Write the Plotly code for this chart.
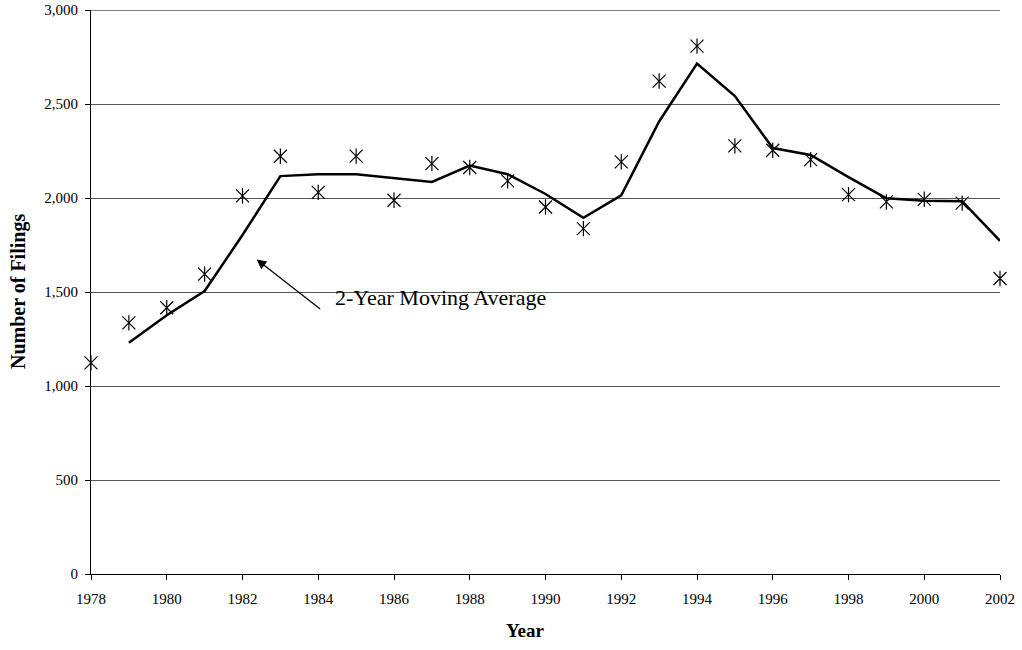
import plotly.graph_objects as go
import pandas as pd

years = list(range(1978, 2003))
filings = [1123, 1336, 1416, 1595, 2011, 2222, 2030, 2223, 1988, 2183,
           2162, 2091, 1952, 1837, 2192, 2622, 2808, 2277, 2254, 2204,
           2018, 1979, 1993, 1973, 1572]
x_ticks = list(range(1978, 2003, 2))
y_ticks = [0, 500, 1000, 1500, 2000, 2500, 3000]

ma = pd.Series(filings).rolling(2).mean().tolist()

fig = go.Figure()
fig.add_trace(go.Scatter(x=years[1:], y=ma[1:], mode="lines",
                         line=dict(color="black", width=2.5),
                         cliponaxis=False, hoverinfo="skip", showlegend=False))
fig.add_trace(go.Scatter(x=years, y=filings, mode="markers",
                         marker=dict(symbol="x-thin-open", size=13, color="black",
                                     line=dict(color="black", width=1.2)),
                         cliponaxis=False, showlegend=False))
fig.add_trace(go.Scatter(x=years, y=filings, mode="markers",
                         marker=dict(symbol="line-ns-open", size=11, color="black",
                                     line=dict(color="black", width=1.2)),
                         cliponaxis=False, showlegend=False, hoverinfo="skip"))

# top border line at 3000
fig.add_shape(type="line", xref="paper", yref="y", x0=0, x1=1, y0=3000, y1=3000,
              line=dict(color="black", width=1), layer="below")

fig.add_annotation(x=1982.375, y=1673, ax=1984.09, ay=1403, xref="x", yref="y",
                   axref="x", ayref="y", text="", showarrow=True,
                   arrowhead=2, arrowsize=1.6, arrowwidth=1.2, arrowcolor="black")
fig.add_annotation(x=1984.39, y=1472, xref="x", yref="y", text="2-Year Moving Average",
                   showarrow=False, xanchor="left", yanchor="middle",
                   font=dict(family="Liberation Serif", size=22, color="black"))

fig.add_annotation(x=-0.0803, y=0.5, xref="paper", yref="paper", text="<b>Number of Filings</b>",
                   textangle=-90, showarrow=False, xanchor="center", yanchor="middle",
                   font=dict(family="Liberation Serif", size=20, color="black"))
fig.add_annotation(x=0.4785, y=-0.0993, xref="paper", yref="paper", text="<b>Year</b>",
                   showarrow=False, xanchor="center", yanchor="middle",
                   font=dict(family="Liberation Serif", size=19, color="black"))

fig.update_layout(
    width=1022, height=650,
    margin=dict(l=91, r=22, t=10, b=76),
    plot_bgcolor="white", paper_bgcolor="white",
    font=dict(family="Liberation Serif", size=15, color="black"),
)
fig.update_xaxes(range=[1978, 2002], tickvals=x_ticks, ticktext=[str(v) for v in x_ticks],
                 showgrid=False, showline=True, linecolor="black", linewidth=1,
                 ticks="outside", ticklen=5, tickcolor="black", zeroline=False,
                 ticklabelstandoff=6, automargin=False)
fig.update_yaxes(range=[0, 3000], tickvals=y_ticks, tickformat=",",
                 showgrid=True, gridcolor="#555555", gridwidth=1,
                 showline=True, linecolor="black", linewidth=1,
                 ticks="outside", ticklen=5, tickcolor="black", zeroline=False,
                 ticklabelstandoff=4, automargin=False)

fig.write_html("out.html", config={"displayModeBar": False},
               post_script="document.body.style.margin='0px';")
